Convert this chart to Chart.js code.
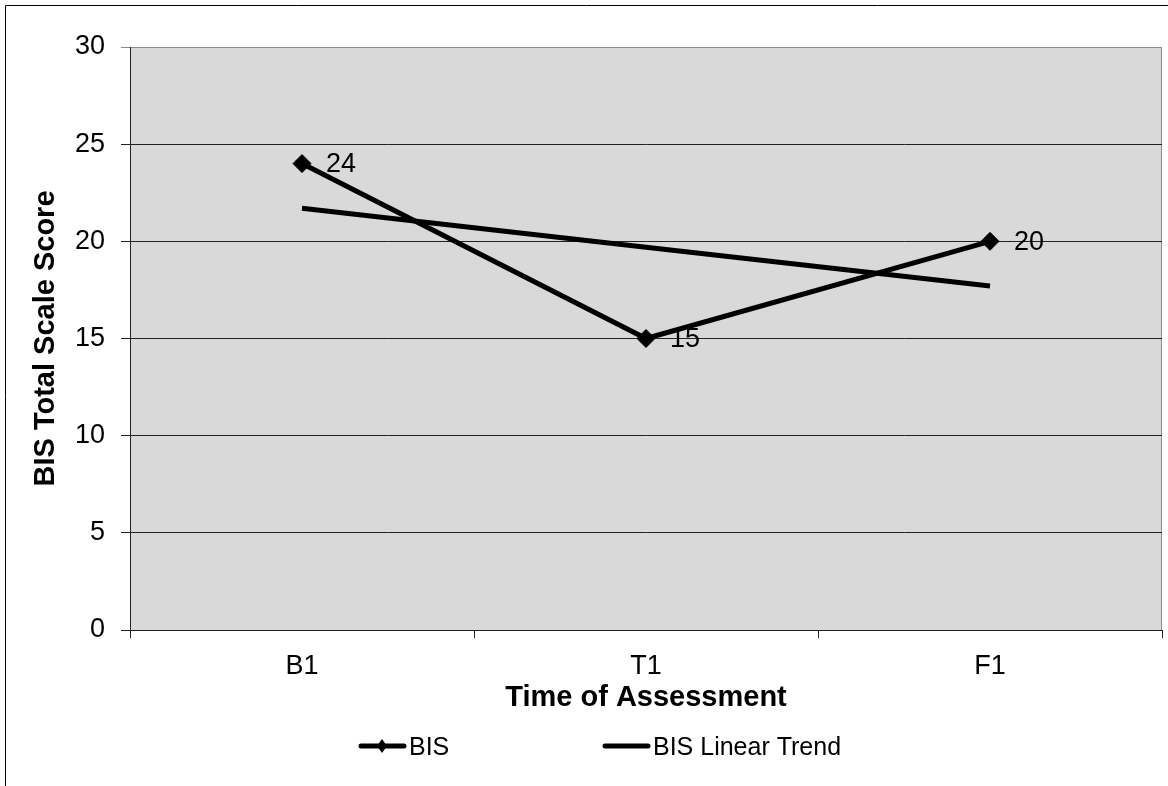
<!DOCTYPE html>
<html>
<head>
<meta charset="utf-8">
<script src="https://cdn.jsdelivr.net/npm/chart.js@4"></script>
<style>
  html, body { margin: 0; padding: 0; background: #fff; }
  #bis-chart { display: block; }
</style>
</head>
<body>
<canvas id="bis-chart" width="1168" height="786"></canvas>
<script>
const categories = ['B1', 'T1', 'F1']
const bisScores = [24, 15, 20]
const trendScores = [21.7, 19.7, 17.7]
const seriesNames = ['BIS', 'BIS Linear Trend']
const yMin = 0
const yMax = 30
const yStep = 5

const FONT = "'Liberation Sans', Arial, sans-serif"
Chart.defaults.font.family = FONT
Chart.defaults.color = '#000'

// grey plot area + the outer chart border
const frame = {
  id: 'frame',
  beforeDraw(chart) {
    const { ctx, chartArea: a } = chart
    ctx.save()
    ctx.fillStyle = '#d9d9d9'
    ctx.fillRect(a.left, a.top, a.right - a.left, a.bottom - a.top)
    ctx.strokeStyle = '#8c8c8c'
    ctx.lineWidth = 1
    ctx.strokeRect(a.left + 0.5, a.top + 0.5, a.right - a.left - 1, a.bottom - a.top)
    ctx.strokeStyle = '#000'
    ctx.beginPath()
    ctx.moveTo(chart.width, 5.5)
    ctx.lineTo(5.5, 5.5)
    ctx.lineTo(5.5, chart.height)
    ctx.stroke()
    ctx.restore()
  },
}

const valueLabels = {
  id: 'valueLabels',
  afterDatasetsDraw(chart) {
    const { ctx } = chart
    const meta = chart.getDatasetMeta(0)
    ctx.save()
    ctx.font = `27px ${FONT}`
    ctx.fillStyle = '#000'
    ctx.textAlign = 'left'
    ctx.textBaseline = 'middle'
    meta.data.forEach((pt, i) => {
      ctx.fillText(String(bisScores[i]), pt.x + 24, pt.y + 1)
    })
    ctx.restore()
  },
}

// excel-like legend under the axis title
const bottomLegend = {
  id: 'bottomLegend',
  afterDraw(chart) {
    const { ctx } = chart
    const y = 746
    const slots = [359, 603]
    ctx.save()
    ctx.font = `25px ${FONT}`
    ctx.textBaseline = 'middle'
    ctx.textAlign = 'left'
    chart.data.datasets.forEach((ds, i) => {
      const x = slots[i]
      ctx.strokeStyle = ds.borderColor
      ctx.lineWidth = 5
      ctx.lineCap = 'round'
      ctx.beginPath()
      ctx.moveTo(x + 2, y)
      ctx.lineTo(x + 45, y)
      ctx.stroke()
      if (ds.pointRadius > 0) {
        ctx.fillStyle = ds.borderColor
        ctx.beginPath()
        ctx.moveTo(x + 23, y - 7)
        ctx.lineTo(x + 28, y)
        ctx.lineTo(x + 23, y + 7)
        ctx.lineTo(x + 18, y)
        ctx.closePath()
        ctx.fill()
      }
      ctx.fillStyle = '#000'
      ctx.fillText(ds.label, x + 50, y + 2)
    })
    ctx.restore()
  },
}

new Chart(document.getElementById('bis-chart'), {
  type: 'line',
  data: {
    labels: categories,
    datasets: [
      {
        label: seriesNames[0],
        data: bisScores,
        borderColor: '#000',
        backgroundColor: '#000',
        borderWidth: 5,
        pointStyle: 'rectRot',
        pointRadius: 9,
        pointHoverRadius: 9,
        pointBorderWidth: 1,
        tension: 0,
      },
      {
        label: seriesNames[1],
        data: trendScores,
        borderColor: '#000',
        borderWidth: 5,
        pointRadius: 0,
        pointHoverRadius: 0,
        tension: 0,
      },
    ],
  },
  options: {
    responsive: false,
    animation: false,
    layout: { autoPadding: false, padding: { top: 47, right: 6, bottom: 66, left: 0 } },
    plugins: { legend: { display: false }, tooltip: { enabled: false } },
    scales: {
      x: {
        offset: true,
        grid: { offset: true, drawOnChartArea: false, tickLength: 8, color: '#222' },
        border: { color: '#222' },
        ticks: { font: { size: 27 }, padding: 12, maxRotation: 0, color: '#000' },
        title: {
          display: true,
          text: 'Time of Assessment',
          font: { size: 29, weight: 'bold' },
          padding: { top: 0, bottom: 5 },
        },
        afterFit(scale) {
          scale.height = 90
          scale.paddingLeft = 0
          scale.paddingRight = 0
        },
      },
      y: {
        min: yMin,
        max: yMax,
        ticks: { stepSize: yStep, font: { size: 27 }, padding: 16, color: '#000' },
        grid: {
          color: (c) => (c.tick && c.tick.value === yMax ? '#8c8c8c' : '#222'),
          tickLength: 9,
        },
        border: { color: '#222' },
        title: {
          display: true,
          text: 'BIS Total Scale Score',
          font: { size: 29, weight: 'bold' },
          padding: { top: 29, bottom: 0 },
        },
        afterFit(scale) { scale.width = 130 },
      },
    },
  },
  plugins: [frame, valueLabels, bottomLegend],
})
</script>
</body>
</html>
